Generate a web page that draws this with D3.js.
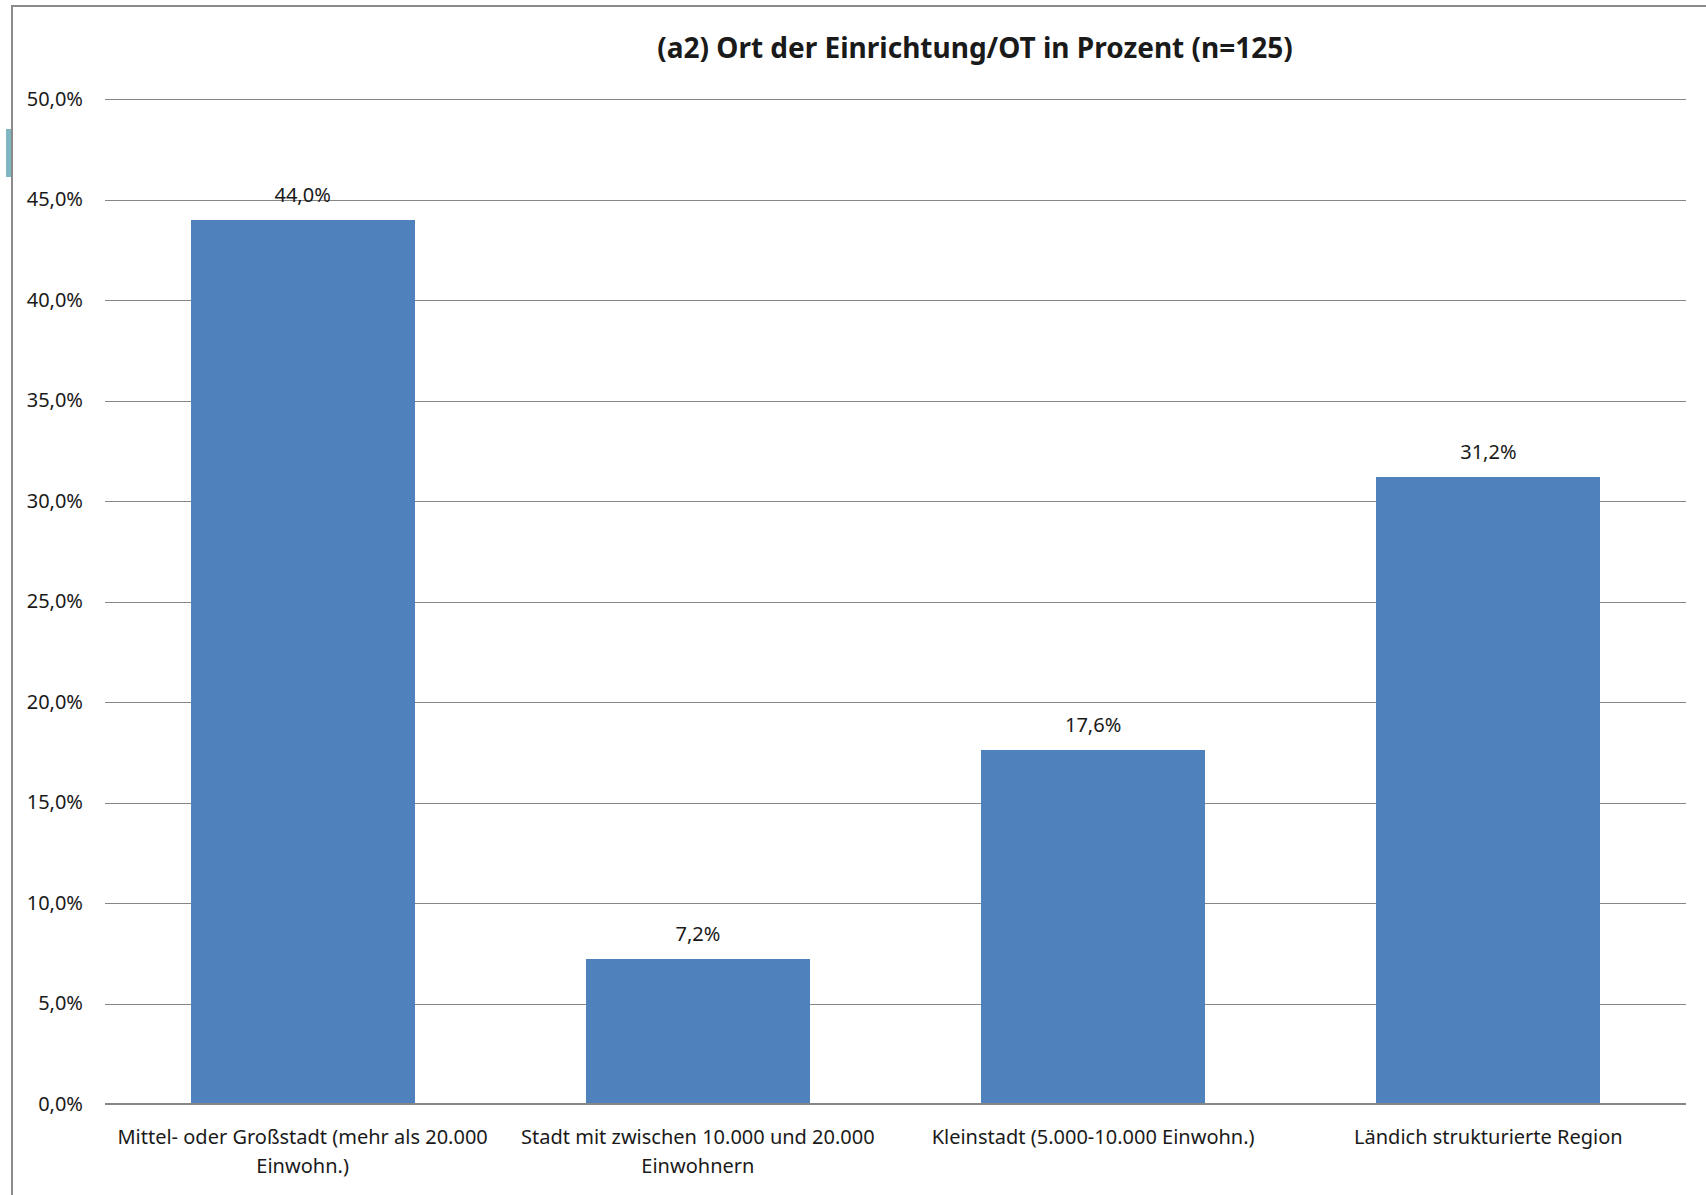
<!DOCTYPE html>
<html>
<head>
<meta charset="utf-8">
<script src="https://cdn.jsdelivr.net/npm/d3@7"></script>
<style>
  html, body { margin: 0; padding: 0; background: #fff; }
  svg { display: block; }
  text { font-family: "Liberation Sans Narrow", "Arial Narrow", "Noto Sans", sans-serif; fill: #1a1a1a; }
</style>
</head>
<body>
<script>
// Ort der Einrichtung/OT – Anteile in Prozent
const title = "(a2) Ort der Einrichtung/OT in Prozent (n=125)";
const categories = [
  ["Mittel- oder Großstadt (mehr als 20.000", "Einwohn.)"],
  ["Stadt mit zwischen 10.000 und 20.000", "Einwohnern"],
  ["Kleinstadt (5.000-10.000 Einwohn.)"],
  ["Ländich strukturierte Region"]
];
const values = [44.0, 7.2, 17.6, 31.2];
const yTicks = [0, 5, 10, 15, 20, 25, 30, 35, 40, 45, 50];
const yTickLabels = ["0,0%", "5,0%", "10,0%", "15,0%", "20,0%", "25,0%", "30,0%", "35,0%", "40,0%", "45,0%", "50,0%"];

const W = 1706, H = 1195;
const plot = { left: 105, right: 1686, top: 99, bottom: 1104 };

const svg = d3.select("body").append("svg")
  .attr("width", W).attr("height", H);

// outer chart frame (continues past the page edge)
svg.append("rect")
  .attr("x", 12).attr("y", 6)
  .attr("width", W + 20).attr("height", H + 20)
  .attr("fill", "none").attr("stroke", "#8a8a8a").attr("stroke-width", 2);

// small selection handle on the left frame
svg.append("rect")
  .attr("x", 6).attr("y", 129).attr("width", 5).attr("height", 48)
  .attr("fill", "#7fb7c3");

const x = d3.scaleBand()
  .domain(d3.range(categories.length))
  .range([plot.left, plot.right])
  .paddingInner(0.433).paddingOuter(0.2165);

const y = d3.scaleLinear().domain([0, 50]).range([plot.bottom, plot.top]);

// gridlines
const yAxis = d3.axisLeft(y)
  .tickValues(yTicks)
  .tickSize(-(plot.right - plot.left))
  .tickPadding(22)
  .tickFormat((d, i) => yTickLabels[i]);

const gy = svg.append("g")
  .attr("transform", `translate(${plot.left},0)`)
  .call(yAxis);
gy.select(".domain").remove();
gy.selectAll(".tick line").attr("stroke", "#868686").attr("stroke-width", 1).attr("shape-rendering", "crispEdges");
gy.selectAll(".tick text").attr("font-size", 20).attr("fill", "#1a1a1a").attr("dy", "0.32em");

// bars
svg.append("g").selectAll("rect")
  .data(values)
  .join("rect")
  .attr("x", (d, i) => x(i))
  .attr("y", d => y(d))
  .attr("width", x.bandwidth())
  .attr("height", d => y(0) - y(d))
  .attr("fill", "#4f81bd")
  .attr("shape-rendering", "crispEdges");

// value labels
svg.append("g").selectAll("text")
  .data(values)
  .join("text")
  .attr("x", (d, i) => x(i) + x.bandwidth() / 2)
  .attr("y", d => y(d) - 18)
  .attr("text-anchor", "middle")
  .attr("font-size", 20)
  .text(d => d.toFixed(1).replace(".", ",") + "%");

// category axis baseline
svg.append("line")
  .attr("x1", plot.left).attr("x2", plot.right)
  .attr("y1", y(0)).attr("y2", y(0))
  .attr("stroke", "#868686").attr("stroke-width", 1.5)
  .attr("shape-rendering", "crispEdges");

// category labels
const cat = svg.append("g").selectAll("text")
  .data(categories)
  .join("text")
  .attr("x", (d, i) => x(i) + x.bandwidth() / 2)
  .attr("y", 1144)
  .attr("text-anchor", "middle")
  .attr("font-size", 20);
cat.selectAll("tspan")
  .data(d => d)
  .join("tspan")
  .attr("x", function () { return d3.select(this.parentNode).attr("x"); })
  .attr("dy", (d, i) => i === 0 ? 0 : 29)
  .text(d => d);

// title
svg.append("text")
  .attr("x", 975).attr("y", 58)
  .attr("text-anchor", "middle")
  .attr("font-size", 28)
  .attr("font-weight", "bold")
  .attr("font-family", "'Open Sans', 'Noto Sans', sans-serif")
  .text(title);
</script>
</body>
</html>
